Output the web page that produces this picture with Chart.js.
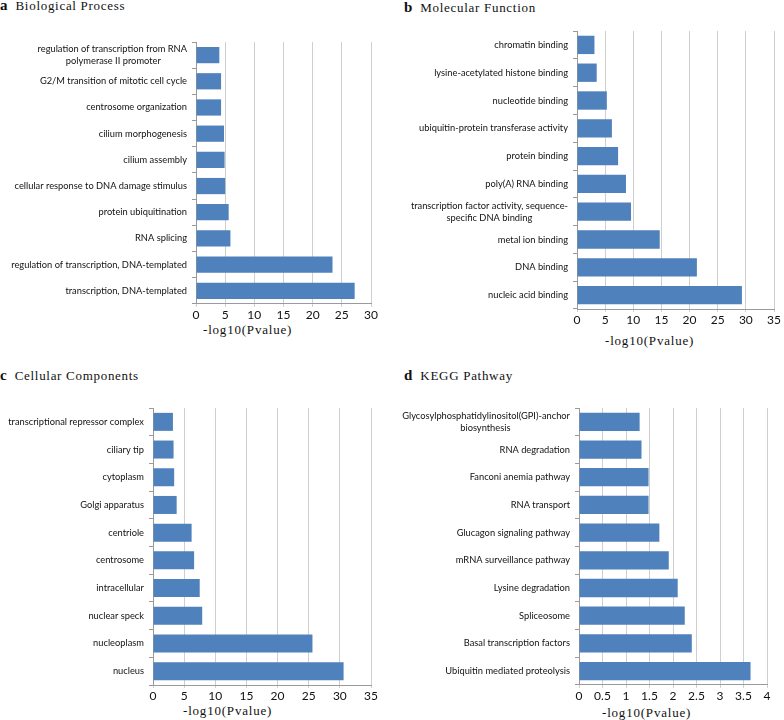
<!DOCTYPE html>
<html>
<head>
<meta charset="utf-8">
<script src="https://cdn.jsdelivr.net/npm/chart.js@4/dist/chart.umd.min.js"></script>
<style>
  body { margin: 0; background: #fff; }
  #page { position: relative; width: 784px; height: 720px; overflow: hidden; }
  .box { position: absolute; }
  .head, .xtitle {
    position: absolute; white-space: nowrap; color: #111;
    font-family: "Liberation Serif", "DejaVu Serif", serif; line-height: 16px;
  }
  .head { font-size: 13px; letter-spacing: 0.7px; }
  .head b { font-size: 15px; letter-spacing: 0; margin-right: 8px; }
  .xtitle { font-size: 13px; letter-spacing: 0.8px; }
</style>
</head>
<body>
<div id="page">
  <div class="head" style="left:0;top:-3px"><b>a</b>Biological Process</div>
  <div class="head" style="left:404px;top:-1px"><b>b</b>Molecular Function</div>
  <div class="head" style="left:0;top:367px"><b>c</b>Cellular Components</div>
  <div class="head" style="left:404px;top:367px"><b>d</b>KEGG Pathway</div>

  <div class="box" style="left:0;top:28px;width:385px;height:293px"><canvas id="chartA"></canvas></div>
  <div class="box" style="left:392px;top:17px;width:392px;height:309px"><canvas id="chartB"></canvas></div>
  <div class="box" style="left:0;top:394px;width:385px;height:308px"><canvas id="chartC"></canvas></div>
  <div class="box" style="left:392px;top:394px;width:392px;height:308px"><canvas id="chartD"></canvas></div>

  <div class="xtitle" style="left:203px;top:322px">-log10(Pvalue)</div>
  <div class="xtitle" style="left:605px;top:333px">-log10(Pvalue)</div>
  <div class="xtitle" style="left:183px;top:703px">-log10(Pvalue)</div>
  <div class="xtitle" style="left:602px;top:705px">-log10(Pvalue)</div>
</div>

<script>
// a: Biological Process (de cima para baixo)
const bpTerms = [
  ["regulation of transcription from RNA", "polymerase II promoter"],
  "G2/M transition of mitotic cell cycle",
  "centrosome organization",
  "cilium morphogenesis",
  "cilium assembly",
  "cellular response to DNA damage stimulus",
  "protein ubiquitination",
  "RNA splicing",
  "regulation of transcription, DNA-templated",
  "transcription, DNA-templated"
];
const bpValues = [4.0, 4.3, 4.3, 4.8, 4.9, 5.0, 5.6, 5.9, 23.4, 27.2];

// b: Molecular Function
const mfTerms = [
  "chromatin binding",
  "lysine-acetylated histone binding",
  "nucleotide binding",
  "ubiquitin-protein transferase activity",
  "protein binding",
  "poly(A) RNA binding",
  ["transcription factor activity, sequence-", "specific DNA binding"],
  "metal ion binding",
  "DNA binding",
  "nucleic acid binding"
];
const mfValues = [3.1, 3.5, 5.3, 6.2, 7.3, 8.7, 9.6, 14.7, 21.3, 29.3];

// c: Cellular Components
const ccTerms = [
  "transcriptional repressor complex",
  "ciliary tip",
  "cytoplasm",
  "Golgi apparatus",
  "centriole",
  "centrosome",
  "intracellular",
  "nuclear speck",
  "nucleoplasm",
  "nucleus"
];
const ccValues = [3.2, 3.3, 3.4, 3.8, 6.2, 6.6, 7.5, 7.9, 25.6, 30.6];

// d: KEGG Pathway
const keggTerms = [
  ["Glycosylphosphatidylinositol(GPI)-anchor", "biosynthesis"],
  "RNA degradation",
  "Fanconi anemia pathway",
  "RNA transport",
  "Glucagon signaling pathway",
  "mRNA surveillance pathway",
  "Lysine degradation",
  "Spliceosome",
  "Basal transcription factors",
  "Ubiquitin mediated proteolysis"
];
const keggValues = [1.29, 1.33, 1.48, 1.48, 1.71, 1.91, 2.10, 2.25, 2.40, 3.65];

// eixo x de cada painel
const bpAxis = { max: 30, step: 5 };
const mfAxis = { max: 35, step: 5 };
const ccAxis = { max: 35, step: 5 };
const keggAxis = { max: 4, step: 0.5 };

const labelFont = { family: "Lato", size: 9.3, lineHeight: 1.3 };
const tickFont = { family: "Lato", size: 12 };

// centraliza as linhas de um rótulo de duas linhas (como no Excel)
function centerLines(label) {
  if (!Array.isArray(label)) return label;
  const ctx = document.createElement("canvas").getContext("2d");
  ctx.font = labelFont.size + "px " + labelFont.family;
  const widths = label.map(l => ctx.measureText(l).width);
  const w = Math.max(...widths);
  const sp = ctx.measureText(" ").width;
  return label.map((l, i) => l + " ".repeat(Math.round((w - widths[i]) / 2 / sp)));
}

function makeChart(id, terms, values, axis, yWidth, padRight, barPct) {
  new Chart(document.getElementById(id), {
    type: "bar",
    data: {
      labels: terms.map(centerLines),
      datasets: [{
        data: values,
        backgroundColor: "#4f81bd",
        borderWidth: 0,
        barPercentage: barPct,
        categoryPercentage: 1
      }]
    },
    options: {
      indexAxis: "y",
      responsive: true,
      maintainAspectRatio: false,
      animation: false,
      layout: { padding: { top: 14, right: padRight, left: 0, bottom: 0 } },
      plugins: { legend: { display: false }, tooltip: { enabled: false } },
      scales: {
        x: {
          min: 0,
          max: axis.max,
          ticks: { stepSize: axis.step, font: tickFont, color: "#111", padding: 1,
                   callback: v => String(v) },
          grid: { color: "#cfcfcf", tickLength: 3 },
          border: { color: "#9a9a9a" },
          afterFit: s => { s.height = 17; }
        },
        y: {
          ticks: { font: labelFont, color: "#111", padding: 5, autoSkip: false },
          grid: { drawOnChartArea: false, offset: true, tickLength: 4, color: "#9a9a9a" },
          border: { color: "#9a9a9a" },
          afterFit: s => { s.width = yWidth; }
        }
      }
    }
  });
}

document.addEventListener("DOMContentLoaded", () => {
  makeChart("chartA", bpTerms, bpValues, bpAxis, 196, 14, 0.62);
  makeChart("chartB", mfTerms, mfValues, mfAxis, 185, 10, 0.66);
  makeChart("chartC", ccTerms, ccValues, ccAxis, 153, 14, 0.65);
  makeChart("chartD", keggTerms, keggValues, keggAxis, 187, 17, 0.66);
});
</script>
</body>
</html>
